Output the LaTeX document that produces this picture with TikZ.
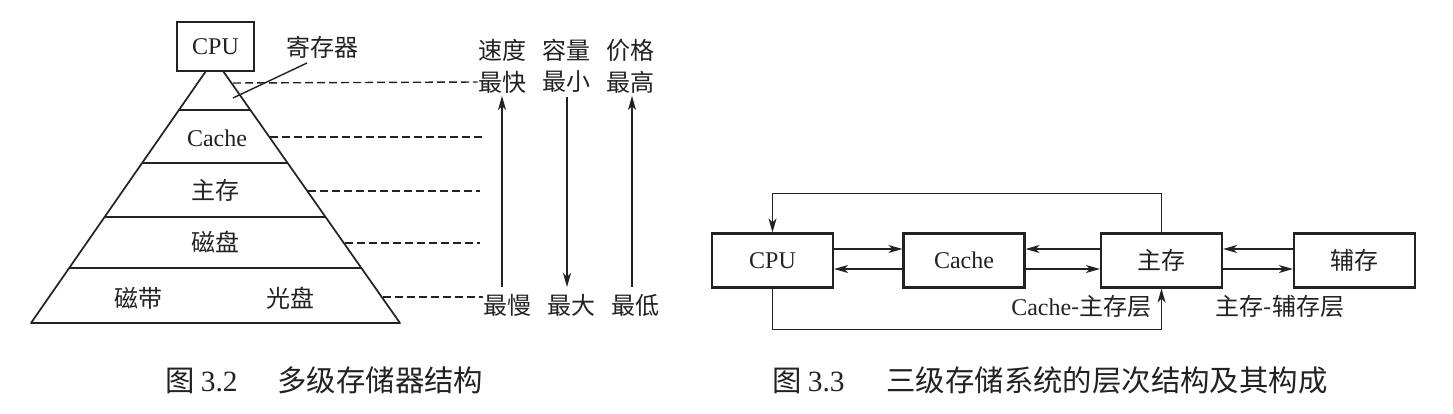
\documentclass[tikz,border=0pt]{standalone}
\usepackage{fontspec}
\setmainfont{Liberation Serif}
\newfontfamily\cjk{Noto Sans CJK SC}
\usetikzlibrary{arrows.meta}
\definecolor{ink}{HTML}{222222}
\begin{document}
\begin{tikzpicture}[x=0.5pt,y=-0.5pt,
  every node/.style={text=ink,font=\fontsize{12}{14}\selectfont,inner sep=0pt},
  pyr/.style={draw=ink,line width=0.85pt,line join=round},
  dash line/.style={draw=ink,line width=0.7pt,dash pattern=on 4pt off 2pt},
  arr/.style={draw=ink,line width=0.75pt,-{Stealth[length=7pt,width=4pt,inset=2pt]}},
  box/.style={draw=ink,line width=1.1pt,minimum width=60.5pt,minimum height=27pt},
  captext/.style={font=\fontsize{14.7}{17}\selectfont,anchor=west}]
\useasboundingbox (0,0) rectangle (1453,413);
\fill[white] (0,0) rectangle (1453,413);

% ---------- Figure 3.2: pyramid ----------
\node[box,minimum width=38.5pt,minimum height=24.5pt] (pcpu) at (215.5,46.5) {CPU};
\coordinate (tl) at (206,71);
\coordinate (tr) at (223,71);
\coordinate (bl) at (31,323);
\coordinate (br) at (400,323);
\draw[pyr] (tl) -- (bl) -- (br) -- (tr);
\draw[pyr] (179,110) -- (250.5,110);
\draw[pyr] (142.3,163) -- (287.6,163);
\draw[pyr] (104.8,217) -- (325.5,217);
\draw[pyr] (69.3,268) -- (361.4,268);

\node (lcache) at (217,138) {Cache};
\node (lmain) at (215,190) {\cjk 主存};
\node (ldisk) at (215,242) {\cjk 磁盘};
\node (ltape) at (138,298) {\cjk 磁带};
\node (lopt) at (290,298) {\cjk 光盘};
\node (lreg) at (322,47) {\cjk 寄存器};
\coordinate (regpt) at (233,98);
\draw[pyr,line width=0.7pt] (307,63) -- (regpt);

% labels of the scales
\node (fast) at (502,82) {\cjk 最快};
\node (speed) at (502,50) {\cjk 速度};
\node (cap1) at (566,50) {\cjk 容量};
\node (small) at (566,82) {\cjk 最小};
\node (price) at (630,50) {\cjk 价格};
\node (high) at (630,82) {\cjk 最高};
\node (slow) at (507,305) {\cjk 最慢};
\node (big) at (571,305) {\cjk 最大};
\node (low) at (635,305) {\cjk 最低};

% dashed level lines
\draw[dash line] (233,83) -- (fast.west);
\draw[dash line] (270,137) -- (482,137);
\draw[dash line] (308,191) -- (480,191);
\draw[dash line] (345,243) -- (480,243);
\draw[dash line] (383,297) -- (slow.west |- 0,297);

\draw[arr] (502,287) -- (502,96);
\draw[arr] (567,97) -- (567,287);
\draw[arr] (632,287) -- (632,96);

\node[captext] (cap32) at (165,380) {{\cjk 图}\hspace{3pt}3.2\hspace{20pt}{\cjk 多级存储器结构}};

% ---------- Figure 3.3 ----------
\node[box] (cpu) at (772.5,260.5) {CPU};
\node[box] (cache) at (964,260.5) {Cache};
\node[box] (main) at (1161.5,260.5) {\cjk 主存};
\node[box] (aux) at (1354.5,260.5) {\cjk 辅存};
\coordinate (ya) at (0,249);
\coordinate (yb) at (0,269);

\draw[arr] (cpu.east |- ya) -- (cache.west |- ya);
\draw[arr] (cache.west |- yb) -- (cpu.east |- yb);
\draw[arr] (main.west |- ya) -- (cache.east |- ya);
\draw[arr] (cache.east |- yb) -- (main.west |- yb);
\draw[arr] (aux.west |- ya) -- (main.east |- ya);
\draw[arr] (main.east |- yb) -- (aux.west |- yb);

\draw[arr] (main.north) -- ++(0,-39) -| (cpu.north);
\draw[arr] (cpu.south) -- ++(0,41) -| (main.south);

\node[anchor=east] (l1) at (1152,306) {Cache{\cjk -主存层}};
\node (l2) at (1280,306) {\cjk 主存-辅存层};

\node[captext] (cap33) at (772,380) {{\cjk 图}\hspace{3pt}3.3\hspace{21pt}{\cjk 三级存储系统的层次结构及其构成}};
\end{tikzpicture}
\end{document}
